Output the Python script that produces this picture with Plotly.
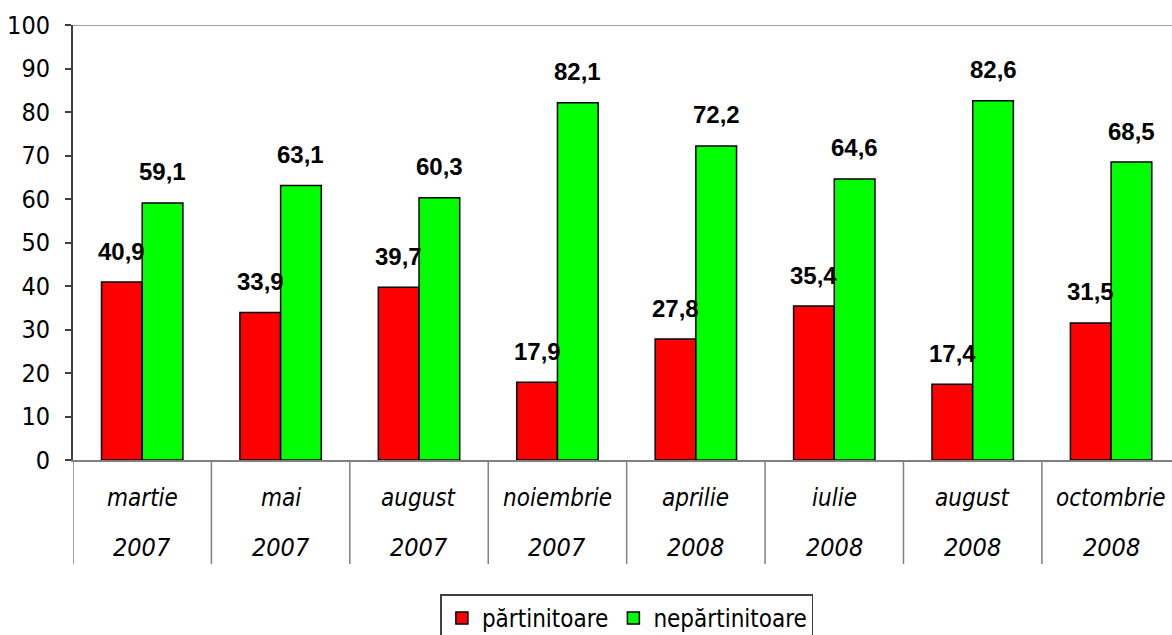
import plotly.graph_objects as go

months = ["martie", "mai", "august", "noiembrie", "aprilie", "iulie", "august", "octombrie"]
years = ["2007", "2007", "2007", "2007", "2008", "2008", "2008", "2008"]
partinitoare = [40.9, 33.9, 39.7, 17.9, 27.8, 35.4, 17.4, 31.5]
nepartinitoare = [59.1, 63.1, 60.3, 82.1, 72.2, 64.6, 82.6, 68.5]
y_ticks = list(range(0, 101, 10))

FONT = "DejaVu Sans Condensed, DejaVu Sans, sans-serif"
LABEL_FONT = "Liberation Sans, Arial, sans-serif"

pos = list(range(len(months)))
fig = go.Figure()
fig.add_trace(go.Bar(x=pos, y=partinitoare, name="părtinitoare",
                     marker=dict(color="#FF0000", line=dict(color="black", width=1.5))))
fig.add_trace(go.Bar(x=pos, y=nepartinitoare, name="nepărtinitoare",
                     marker=dict(color="#00FF00", line=dict(color="black", width=1.5))))

bargap = 0.412
half = (1 - bargap) / 4
annotations = []
for i, (a, b) in enumerate(zip(partinitoare, nepartinitoare)):
    for val, off in ((a, -half), (b, half)):
        annotations.append(dict(x=i + off, y=val, xref="x", yref="y",
                                text=f"<b>{val:.1f}</b>".replace(".", ","),
                                showarrow=False, yanchor="middle", yshift=31,
                                font=dict(family=LABEL_FONT, size=24, color="black")))
    annotations.append(dict(x=i, y=-0.0874, xref="x", yref="paper", text=f"<i>{months[i]}</i>",
                            showarrow=False, yanchor="middle",
                            font=dict(family=FONT, size=24, color="black")))
    annotations.append(dict(x=i, y=-0.2, xref="x", yref="paper", text=f"<i>{years[i]}</i>",
                            showarrow=False, yanchor="middle",
                            font=dict(family=FONT, size=25, color="black")))

shapes = []
for i in range(len(months)):
    shapes.append(dict(type="line", xref="x", yref="paper", x0=i - 0.5, x1=i - 0.5,
                       y0=0, y1=-0.239, line=dict(color="#808080", width=1.5)))
shapes.append(dict(type="line", xref="paper", yref="y", x0=0, x1=1, y0=100, y1=100,
                   line=dict(color="#808080", width=1.5)))

fig.update_layout(
    width=1172, height=635,
    margin=dict(l=73, r=0, t=25, b=175, autoexpand=False),
    paper_bgcolor="white", plot_bgcolor="white",
    barmode="group", bargap=bargap, bargroupgap=0,
    xaxis=dict(range=[-0.5, 7.44], showticklabels=False, showgrid=False, zeroline=False,
               showline=True, linecolor="#808080", linewidth=1.5, ticks="", automargin=False),
    yaxis=dict(range=[0, 100], tickvals=y_ticks, showgrid=False, zeroline=False,
               showline=True, linecolor="#404040", linewidth=2, automargin=False,
               ticks="outside", ticklen=6, tickcolor="#404040", tickwidth=1.5,
               ticklabelstandoff=10,
               tickfont=dict(family=FONT, size=25, color="black")),
    showlegend=True,
    legend=dict(orientation="h", x=0.504, xanchor="center", y=-0.309, yanchor="top",
                bordercolor="#404040", borderwidth=1.5, bgcolor="white",
                font=dict(family=FONT, size=24, color="black"),
                itemwidth=30, tracegroupgap=0),
    annotations=annotations,
    shapes=shapes,
)

fig.write_html("out.html", config={"displayModeBar": False},
               post_script="document.body.style.margin='0';document.body.style.overflow='hidden';")
